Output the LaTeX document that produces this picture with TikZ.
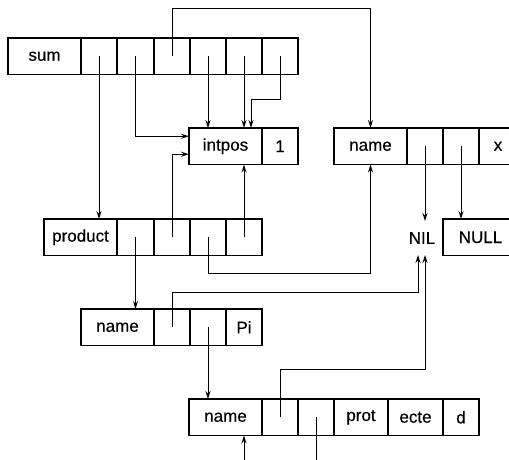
\documentclass[tikz,border=0pt]{standalone}
\usepackage{fontspec}
\setmainfont{Liberation Sans}
\newfontfamily\labelfont[FakeBold=0.4]{Liberation Sans}
\usetikzlibrary{arrows.meta}
\begin{document}
\begin{tikzpicture}[x=1pt,y=1pt,
  cell/.style={draw, line width=1.05pt, anchor=north west, minimum height=36.5pt,
    inner sep=0pt, outer sep=0pt, font=\labelfont\fontsize{17}{19}\selectfont},
  lbl/.style={inner sep=0pt, outer sep=0pt, minimum height=34pt, font=\labelfont\fontsize{17}{19}\selectfont},
  ptr/.style={line width=1pt, -{Stealth[length=8pt,width=5pt]}},
  wire/.style={line width=1pt}]
\useasboundingbox (0,0) rectangle (509,-460);
\clip (0,0) rectangle (509,-460);
% sum row
\node[cell,minimum width=73pt] (s0) at (8,-38) {sum};
\node[cell,minimum width=36pt] (s1) at (81,-38) {};
\node[cell,minimum width=37pt] (s2) at (117,-38) {};
\node[cell,minimum width=36pt] (s3) at (154,-38) {};
\node[cell,minimum width=36pt] (s4) at (190,-38) {};
\node[cell,minimum width=36pt] (s5) at (226,-38) {};
\node[cell,minimum width=36pt] (s6) at (262,-38) {};
% intpos
\node[cell,minimum width=73pt] (ip0) at (189,-128) {intpos};
\node[cell,minimum width=36pt] (ip1) at (262,-128) {1};
% name x
\node[cell,minimum width=73pt] (n0) at (334,-128) {name};
\node[cell,minimum width=36pt] (n1) at (407,-128) {};
\node[cell,minimum width=36pt] (n2) at (443,-128) {};
\node[cell,minimum width=38pt] (n3) at (479,-128) {x};
% product
\node[cell,minimum width=73pt] (p0) at (44,-219) {product};
\node[cell,minimum width=37pt] (p1) at (117,-219) {};
\node[cell,minimum width=36pt] (p2) at (154,-219) {};
\node[cell,minimum width=36pt] (p3) at (190,-219) {};
\node[cell,minimum width=36pt] (p4) at (226,-219) {};
% NIL and NULL
\node[lbl] (nil) at (422,-238) {NIL};
\node[cell,minimum width=75pt] (nu) at (443,-219) {NULL};
% name Pi
\node[cell,minimum width=73pt] (q0) at (81,-309) {name};
\node[cell,minimum width=36pt] (q1) at (154,-309) {};
\node[cell,minimum width=36pt] (q2) at (190,-309) {};
\node[cell,minimum width=36pt] (q3) at (226,-309) {Pi};
% bottom row
\node[cell,minimum width=73pt] (b0) at (189,-399) {name};
\node[cell,minimum width=36pt] (b1) at (262,-399) {};
\node[cell,minimum width=36pt] (b2) at (298,-399) {};
\node[cell,minimum width=54pt] (b3) at (334,-399) {prot};
\node[cell,minimum width=55pt] (b4) at (388,-399) {ecte};
\node[cell,minimum width=36pt] (b5) at (443,-399) {d};
% helper coordinates
\coordinate (top) at (0,-9);
\coordinate (bend6) at (251,-100);
\coordinate (lowA) at (0,-273);
\coordinate (lowB) at (0,-292);
\coordinate (lowC) at (0,-369);
\coordinate (bot) at (0,-470);
\coordinate (in1) at (244,-470);
% connectors
\draw[ptr] (s1.center) -- (s1.center |- p0.north);
\draw[ptr] (s2.center) |- ([yshift=10pt]ip0.west);
\draw[ptr] (s3.center) -- (s3.center |- top) -| (n0.north);
\draw[ptr] (s4.center) -- (s4.center |- ip0.north);
\draw[ptr] (s5.center) -- (s5.center |- ip0.north);
\draw[ptr] (s6.center) |- (bend6) -- (bend6 |- ip0.north);
\draw[ptr] (p1.center) -- (p1.center |- q0.north);
\draw[ptr] (p2.center) |- ([yshift=-8pt]ip0.west);
\draw[ptr] (p3.center) -- (p3.center |- lowA) -| (n0.south);
\draw[ptr] (p4.center) -- (p4.center |- ip0.south);
\draw[ptr] (n1.center) -- (n1.center |- nil.north);
\draw[ptr] (n2.center) -- (n2.center |- nu.north);
\draw[ptr] (q1.center) -- (q1.center |- lowB) -| ([xshift=-4pt]nil.south);
\draw[ptr] (q2.center) -- (q2.center |- b0.north);
\draw[ptr] (b1.center) -- (b1.center |- lowC) -| ([xshift=3pt]nil.south);
\draw[ptr] (in1) -- (in1 |- b0.south);
\draw[wire] (b2.center) -- (b2.center |- bot);
\end{tikzpicture}
\end{document}
